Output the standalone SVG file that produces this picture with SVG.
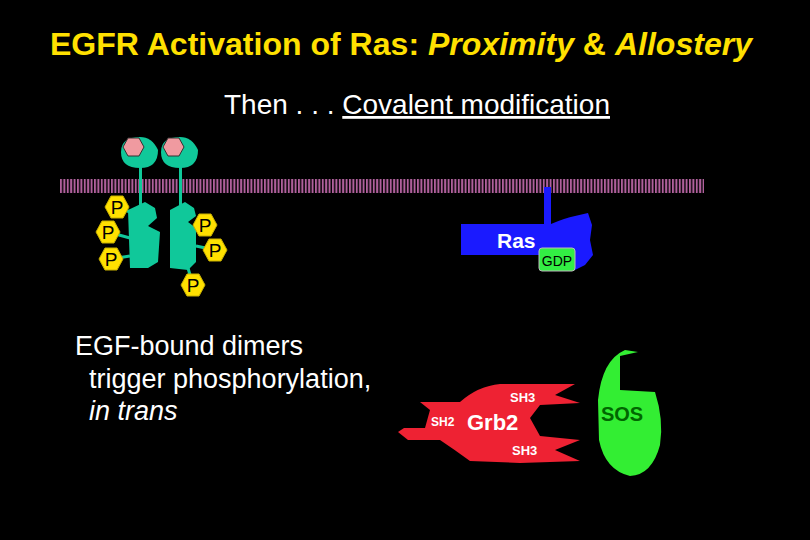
<svg xmlns="http://www.w3.org/2000/svg" width="810" height="540" viewBox="0 0 810 540">
<defs>
<pattern id="mem" x="60" y="0" width="3.4" height="20" patternUnits="userSpaceOnUse"><rect width="2" height="20" fill="#b0609c"/></pattern>
<polygon id="hex" points="-12,0 -6,-11 6,-11 12,0 6,11 -6,11"/>
</defs>
<style>
text{font-family:"Liberation Sans",Arial,sans-serif}
.p use{fill:#ffe000;stroke:#c8b000;stroke-width:1}
.p text{font-size:19px;fill:#000;text-anchor:middle}
.rc{fill:#10c89a}
.w{fill:#fff}
</style>
<rect width="810" height="540" fill="#000"/>
<text x="50" y="55" font-size="32" font-weight="bold" fill="#ffe000" textLength="702">EGFR Activation of Ras: <tspan font-style="italic">Proximity</tspan> &amp; <tspan font-style="italic">Allostery</tspan></text>
<text x="224" y="114" font-size="28" class="w">Then . . . <tspan text-decoration="underline">Covalent modification</tspan></text>
<g id="membrane"><rect x="60" y="179" width="644" height="14" fill="url(#mem)"/></g>
<g id="receptor1">
<path d="M158,150 Q158,168 140,168 Q121,168 121,152 Q121,137 140,137 Q152,137 158,150 Z" class="rc"/>
<polygon points="123,147 128,138 139,138 144,147 139,156 128,156" fill="#f09aa0" stroke="#333"/>
<rect x="139" y="165" width="3" height="42" class="rc"/>
<path d="M128,210 L145,202 L155,208 L157,218 L148,226 L160,232 L158,262 L148,268 L130,268 Z" class="rc"/>
<line x1="117" y1="207" x2="130" y2="212" stroke="#10c89a" stroke-width="3"/>
<line x1="108" y1="232" x2="130" y2="238" stroke="#10c89a" stroke-width="3"/>
<line x1="111" y1="259" x2="130" y2="256" stroke="#10c89a" stroke-width="3"/>
</g>
<g id="receptor2">
<path d="M198,150 Q198,168 180,168 Q161,168 161,152 Q161,137 180,137 Q192,137 198,150 Z" class="rc"/>
<polygon points="163,147 168,138 179,138 184,147 179,156 168,156" fill="#f09aa0" stroke="#333"/>
<rect x="179" y="165" width="3" height="42" class="rc"/>
<path d="M170,210 L185,202 L194,208 L196,216 L188,222 L196,228 L196,262 L188,270 L170,268 Z" class="rc"/>
<line x1="193" y1="230" x2="205" y2="226" stroke="#10c89a" stroke-width="3"/>
<line x1="196" y1="246" x2="215" y2="250" stroke="#10c89a" stroke-width="3"/>
<line x1="188" y1="268" x2="193" y2="285" stroke="#10c89a" stroke-width="3"/>
</g>
<g class="p" id="phosphates">
<use href="#hex" x="117" y="207"/><text x="117" y="214">P</text>
<use href="#hex" x="108" y="232"/><text x="108" y="239">P</text>
<use href="#hex" x="111" y="259"/><text x="111" y="266">P</text>
<use href="#hex" x="205" y="225"/><text x="205" y="232">P</text>
<use href="#hex" x="215" y="250"/><text x="215" y="257">P</text>
<use href="#hex" x="193" y="285"/><text x="193" y="292">P</text>
</g>
<g id="caption" font-size="27" class="w">
<text x="75" y="355">EGF-bound dimers</text>
<text x="89" y="388">trigger phosphorylation,</text>
<text x="89" y="420" font-style="italic">in trans</text>
</g>
<g id="ras">
<rect x="544" y="187" width="7" height="38" fill="#1a1aff"/>
<path d="M461,224 L551,224 Q565,218 575,216 L588,213 L592,225 L590,240 L593,255 L585,265 L575,270 L561,270 L561,255 L461,255 Z" fill="#1a1aff"/>
<text x="497" y="248" font-size="21" font-weight="bold" class="w">Ras</text>
<rect x="539" y="248" width="36" height="23" rx="3" fill="#33ee44" stroke="#bbb"/>
<text x="557" y="266" font-size="14" fill="#000" text-anchor="middle">GDP</text>
</g>
<g id="sos">
<path d="M598,400 Q602,360 625,350 L638,352 L620,356 L620,390 L655,392 Q664,420 660,445 Q652,475 630,476 Q605,470 599,440 Z" fill="#33ee33"/>
<text x="622" y="421" font-size="20" font-weight="bold" fill="#006600" text-anchor="middle">SOS</text>
</g>
<g id="grb2">
<path d="M500,384 L575,384 L555,395 L580,403 L540,405 L530,418 L540,436 L580,440 L555,450 L580,461 L520,463 L470,461 Q455,450 440,440 L408,440 L398,432 L404,428 L425,428 L430,410 L420,402 L460,402 Q478,386 500,384 Z" fill="#ee2233"/>
<text x="510" y="402" font-size="13" font-weight="bold" class="w">SH3</text>
<text x="431" y="426" font-size="12" font-weight="bold" class="w">SH2</text>
<text x="467" y="430" font-size="22" font-weight="bold" class="w">Grb2</text>
<text x="512" y="455" font-size="13" font-weight="bold" class="w">SH3</text>
</g>
</svg>
